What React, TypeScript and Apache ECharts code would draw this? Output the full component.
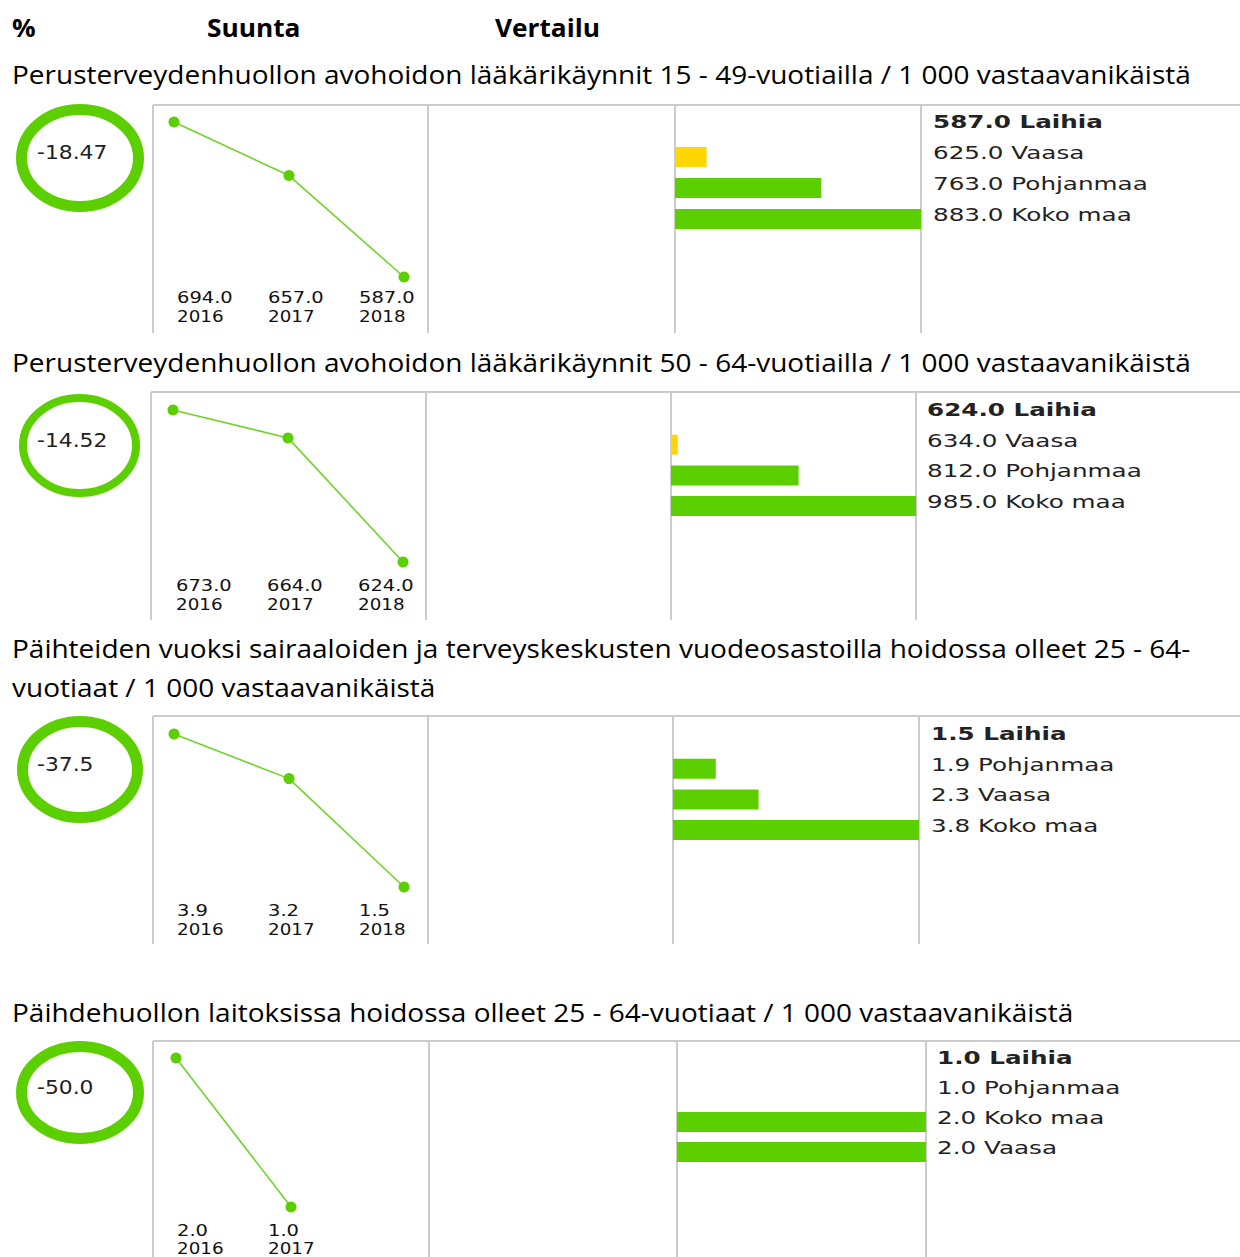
import React, { useEffect, useRef } from "react";
import * as echarts from "echarts";

// ---------- data ----------
const headerLabels = ["%", "Suunta", "Vertailu"];

const panelTitles = [
  "Perusterveydenhuollon avohoidon lääkärikäynnit 15 - 49-vuotiailla / 1 000 vastaavanikäistä",
  "Perusterveydenhuollon avohoidon lääkärikäynnit 50 - 64-vuotiailla / 1 000 vastaavanikäistä",
  "Päihteiden vuoksi sairaaloiden ja terveyskeskusten vuodeosastoilla hoidossa olleet 25 - 64-\nvuotiaat / 1 000 vastaavanikäistä",
  "Päihdehuollon laitoksissa hoidossa olleet 25 - 64-vuotiaat / 1 000 vastaavanikäistä",
];

const changePercents = ["-18.47", "-14.52", "-37.5", "-50.0"];

const trendYears = [
  ["2016", "2017", "2018"],
  ["2016", "2017", "2018"],
  ["2016", "2017", "2018"],
  ["2016", "2017"],
];

const trendValues = [
  [694.0, 657.0, 587.0],
  [673.0, 664.0, 624.0],
  [3.9, 3.2, 1.5],
  [2.0, 1.0],
];

const compareRegions = [
  ["Laihia", "Vaasa", "Pohjanmaa", "Koko maa"],
  ["Laihia", "Vaasa", "Pohjanmaa", "Koko maa"],
  ["Laihia", "Pohjanmaa", "Vaasa", "Koko maa"],
  ["Laihia", "Pohjanmaa", "Koko maa", "Vaasa"],
];

const compareValues = [
  [587.0, 625.0, 763.0, 883.0],
  [624.0, 634.0, 812.0, 985.0],
  [1.5, 1.9, 2.3, 3.8],
  [1.0, 1.0, 2.0, 2.0],
];

// ---------- layout / style ----------
const GREEN = "#5ccf00";
const LINE_GREEN = "#6fd42a";
const YELLOW = "#ffd700";
const GRID_GRAY = "#cbcbcb";
const TITLE_FONT = "'Open Sans', sans-serif";
const SMALL_FONT = "'DejaVu Sans', sans-serif";

const layouts = [
  { titleY: 75, boxTop: 105, boxBottom: 333, vx: [153, 428, 675, 921], ring: [80, 158, 58.5, 48.5, 11], lineLeft: 174, lineTop: 122, lineH: 155, labelX: 177, valY: 298, yearY: 317, textX: 933, textY: 122, rowH: 31 },
  { titleY: 363, boxTop: 392, boxBottom: 620, vx: [151, 426, 671, 916], ring: [79.5, 445.5, 56.5, 47.5, 8], lineLeft: 173, lineTop: 410, lineH: 152, labelX: 176, valY: 586, yearY: 605, textX: 927, textY: 410, rowH: 30.7 },
  { titleY: 649, boxTop: 716, boxBottom: 944, vx: [153, 428, 673, 919], ring: [80, 769.5, 57.5, 48, 11], lineLeft: 174, lineTop: 734, lineH: 153, labelX: 177, valY: 911, yearY: 930, textX: 931, textY: 734, rowH: 30.7 },
  { titleY: 1013, boxTop: 1041, boxBottom: 1257, vx: [153, 429, 677, 926], ring: [80, 1092.5, 58.5, 46, 11], lineLeft: 176, lineTop: 1058, lineH: 149, labelX: 177, valY: 1231, yearY: 1249, textX: 937, textY: 1058, rowH: 30 },
];

function txt(x: number, y: number, text: string, opts: any = {}) {
  const { scaleX = 1, fontSize = 16, fontFamily = SMALL_FONT, fontWeight = "normal", fill = "#222", align = "left", vAlign = "middle", lineHeight } = opts;
  return {
    type: "text",
    x,
    y,
    scaleX,
    silent: true,
    style: {
      text,
      fontSize,
      fontFamily,
      fontWeight,
      fill,
      align,
      verticalAlign: vAlign,
      textAlign: align,
      textVerticalAlign: vAlign,
      lineHeight,
    },
  };
}

function gline(x1: number, y1: number, x2: number, y2: number) {
  return { type: "line", silent: true, shape: { x1, y1, x2, y2 }, style: { stroke: GRID_GRAY, lineWidth: 2 } };
}

function buildOption() {
  const grid: any[] = [];
  const xAxis: any[] = [];
  const yAxis: any[] = [];
  const series: any[] = [];
  const graphic: any[] = [];

  const headerX = [12, 207, 495];
  headerLabels.forEach((h, k) =>
    graphic.push(txt(headerX[k], 28, h, { fontSize: 25, scaleX: 1.05, fontFamily: TITLE_FONT, fontWeight: "bold", fill: "#000" }))
  );

  layouts.forEach((L, i) => {
    const vals = trendValues[i];
    const cvals = compareValues[i];
    const own = cvals[0];
    const tMin = Math.min(...vals);
    const tMax = Math.max(...vals);
    const cMin = Math.min(...cvals);
    const cMax = Math.max(...cvals);

    // line (trend) grid
    grid.push({ left: L.lineLeft, top: L.lineTop, width: 230, height: L.lineH, containLabel: false });
    xAxis.push({ gridIndex: 2 * i, type: "value", min: 0, max: 2, show: false });
    yAxis.push({ gridIndex: 2 * i, type: "value", min: tMin, max: tMax, show: false });
    series.push({
      type: "line",
      xAxisIndex: 2 * i,
      yAxisIndex: 2 * i,
      data: vals.map((v, k) => [k, v]),
      symbol: "circle",
      symbolSize: 11,
      lineStyle: { color: LINE_GREEN, width: 1.6 },
      itemStyle: { color: GREEN },
      silent: true,
    });

    // comparison bars grid
    const barLeft = L.vx[2];
    const barW = L.vx[3] - L.vx[2];
    grid.push({ left: barLeft, top: L.textY + 4 - L.rowH / 2, width: barW, height: L.rowH * 4, containLabel: false });
    xAxis.push({ gridIndex: 2 * i + 1, type: "value", min: cMin, max: cMax, startValue: cMin, show: false });
    yAxis.push({ gridIndex: 2 * i + 1, type: "category", inverse: true, data: compareRegions[i], show: false });
    series.push({
      type: "bar",
      xAxisIndex: 2 * i + 1,
      yAxisIndex: 2 * i + 1,
      barWidth: 20,
      clip: true,
      silent: true,
      data: cvals.map((v) => ({ value: v, itemStyle: { color: v / own < 1.1 ? YELLOW : GREEN } })),
    });

    // title
    graphic.push(txt(12, L.titleY - 19.5, panelTitles[i], { fontSize: 25, scaleX: 1.12, fontFamily: TITLE_FONT, fill: "#000", vAlign: "top", lineHeight: 39 }));

    // frame lines
    graphic.push(gline(L.vx[0], L.boxTop, 1240, L.boxTop));
    L.vx.forEach((x) => graphic.push(gline(x, L.boxTop, x, L.boxBottom)));

    // ring
    const [cx, cy, rx, ry, lw] = L.ring;
    graphic.push({ type: "ellipse", silent: true, shape: { cx, cy, rx, ry }, style: { fill: "none", stroke: GREEN, lineWidth: lw } });
    graphic.push(txt(37, cy - 5, changePercents[i], { fontSize: 19, scaleX: 1.15 }));

    // trend labels
    vals.forEach((v, k) => {
      graphic.push(txt(L.labelX + k * 91, L.valY, v.toFixed(1), { fontSize: 15, scaleX: 1.3, fill: "#111" }));
      graphic.push(txt(L.labelX + k * 91, L.yearY, trendYears[i][k], { fontSize: 15, scaleX: 1.22, fill: "#111" }));
    });

    // comparison labels
    cvals.forEach((v, r) => {
      graphic.push(
        txt(L.textX, L.textY + r * L.rowH, `${v.toFixed(1)} ${compareRegions[i][r]}`, {
          fontSize: 17,
          scaleX: 1.45,
          fontWeight: r === 0 ? "bold" : "normal",
          fill: "#222",
        })
      );
    });
  });

  return { animation: false, backgroundColor: "#fff", grid, xAxis, yAxis, series, graphic };
}

export default function App() {
  const ref = useRef<HTMLDivElement>(null);
  useEffect(() => {
    document.body.style.margin = "0";
    document.body.style.overflow = "hidden";
    const chart = echarts.init(ref.current!, null, { renderer: "svg" });
    chart.setOption(buildOption() as any);
    return () => chart.dispose();
  }, []);
  return <div ref={ref} style={{ width: 1240, height: 1257 }} />;
}
